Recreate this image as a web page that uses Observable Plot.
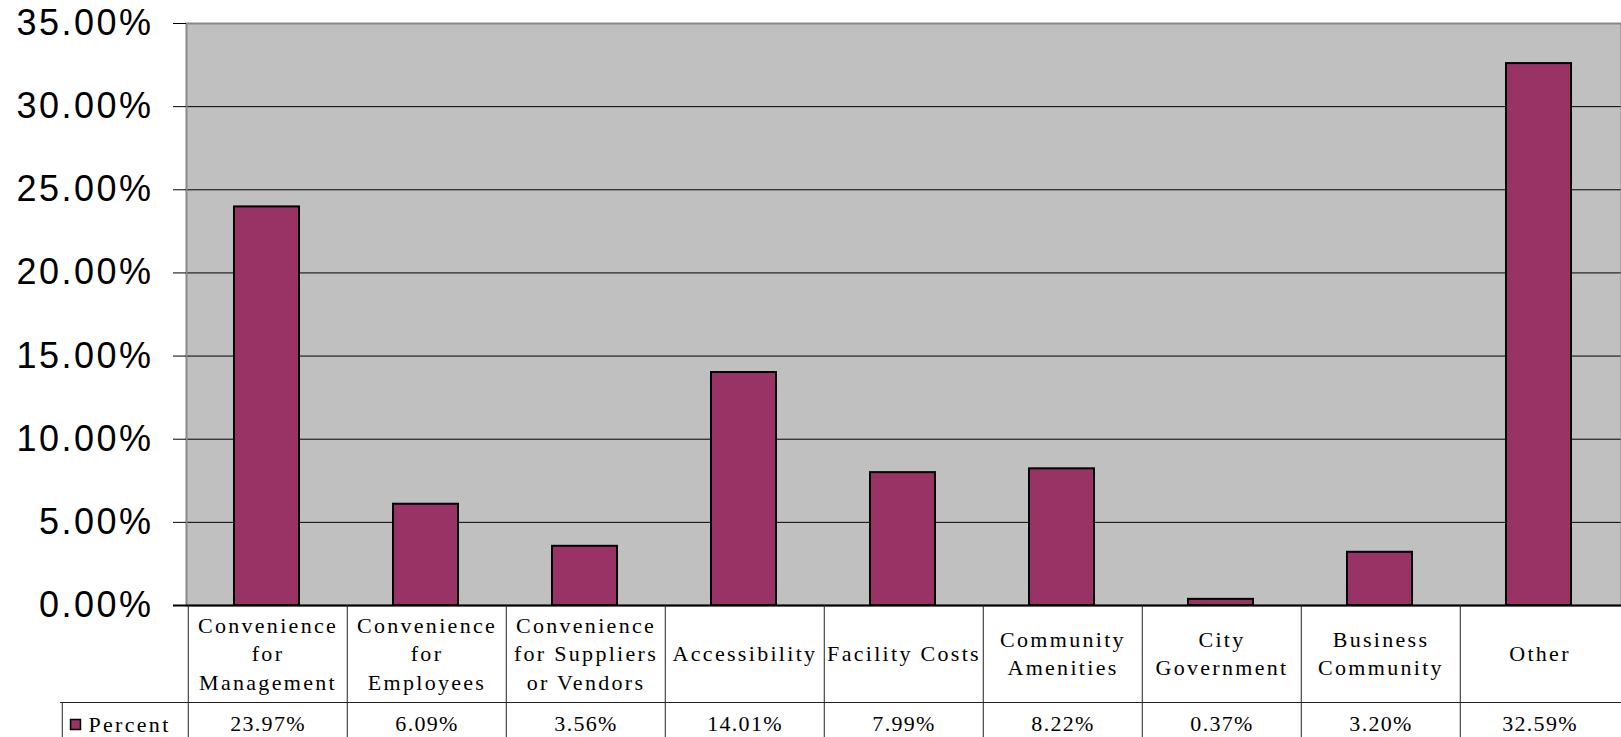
<!DOCTYPE html>
<html>
<head>
<meta charset="utf-8">
<script src="https://cdn.jsdelivr.net/npm/d3@7"></script>
<script src="https://cdn.jsdelivr.net/npm/@observablehq/plot@0.6"></script>
<style>
  html, body { margin: 0; padding: 0; background: #fff; }
</style>
</head>
<body>
<div id="chart"></div>
<script>
// Reasons given for choosing a location (share of responses)
const categories = [
  "Convenience\nfor\nManagement",
  "Convenience\nfor\nEmployees",
  "Convenience\nfor Suppliers\nor Vendors",
  "Accessibility",
  "Facility Costs",
  "Community\nAmenities",
  "City\nGovernment",
  "Business\nCommunity",
  "Other"
];
const values = [0.2397, 0.0609, 0.0356, 0.1401, 0.0799, 0.0822, 0.0037, 0.0320, 0.3259];
const seriesName = "Percent";
const yTicks = [0, 0.05, 0.10, 0.15, 0.20, 0.25, 0.30, 0.35];

const rows = categories.map((category, i) => ({category, value: values[i]}));

// Layout
const W = 1621, H = 737;
const mL = 186, mR = 0, mT = 23, mB = 132;
const plotH = H - mT - mB;
const step = (W - mL - mR) / categories.length;   // width of one table column
const headerH = 97;                                // height of the label row
const legendLeft = 126;                            // legend cell extends left of the plot

const pct = d3.format(".2%");
const serif = "Liberation Serif";
const sans = "Liberation Sans";
const barFill = "#993366";

const chart = Plot.plot({
  width: W,
  height: H,
  marginLeft: mL,
  marginRight: mR,
  marginTop: mT,
  marginBottom: mB,
  x: {domain: categories, padding: 0, axis: null},
  y: {domain: [0, 0.35], axis: null},
  marks: [
    // plot area background and gridlines
    Plot.frame({fill: "#c0c0c0"}),
    Plot.ruleY(yTicks.slice(1), {stroke: "#000", strokeWidth: 1}),
    Plot.frame({stroke: "#888", strokeWidth: 2}),
    Plot.axisY({
      ticks: yTicks,
      tickFormat: pct,
      tickSize: 13,
      tickPadding: 20,
      label: null,
      fontSize: 36,
      fontFamily: sans
    }),
    // bars
    Plot.barY(rows, {
      x: "category",
      y: "value",
      fill: barFill,
      stroke: "#000",
      strokeWidth: 2,
      insetLeft: 46,
      insetRight: 48
    }),
    Plot.ruleY([0], {stroke: "#000", strokeWidth: 2, insetLeft: -13}),

    // data table below the plot: column borders, row border, legend cell border
    Plot.ruleX(categories, {
      x: (d) => d,
      dx: -step / 2,
      insetTop: plotH,
      insetBottom: -mB,
      stroke: "#222",
      strokeWidth: 1
    }),
    Plot.ruleY([0], {dy: headerH, insetLeft: -legendLeft, stroke: "#222", strokeWidth: 1}),
    Plot.ruleX([categories[0]], {
      x: (d) => d,
      dx: -step / 2 - legendLeft,
      insetTop: plotH + headerH,
      insetBottom: -mB,
      stroke: "#222",
      strokeWidth: 1
    }),

    // category labels (header row)
    Plot.text(categories, {
      x: (d) => d,
      text: (d) => d,
      frameAnchor: "bottom",
      lineAnchor: "middle",
      dy: headerH / 2 - 2,
      lineHeight: 1.3,
      fontSize: 22,
      fontFamily: serif,
      fill: "#000"
    }),
    // values row
    Plot.text(rows, {
      x: "category",
      text: (d) => pct(d.value),
      frameAnchor: "bottom",
      lineAnchor: "middle",
      dy: headerH + 21,
      fontSize: 22,
      fontFamily: serif,
      fill: "#000"
    }),
    // legend key in the first cell of the values row
    Plot.dot([seriesName], {
      frameAnchor: "bottom-left",
      dx: -legendLeft + 15,
      dy: headerH + 22,
      symbol: "square",
      r: 5.6,
      fill: barFill,
      stroke: "#000",
      strokeWidth: 1.5
    }),
    Plot.text([seriesName], {
      frameAnchor: "bottom-left",
      text: (d) => d,
      textAnchor: "start",
      lineAnchor: "middle",
      dx: -legendLeft + 28,
      dy: headerH + 22,
      fontSize: 22,
      fontFamily: serif,
      fill: "#000"
    })
  ]
});

// the table's serif text is set with wide tracking; the axis numbers slightly wider too
d3.select(chart).selectAll("text").each(function () {
  const family = this.parentNode.getAttribute("font-family") || "";
  if (family.includes("Serif")) {
    const isValue = /%$/.test(this.textContent);
    this.setAttribute("letter-spacing", isValue ? "1.3px" : "2.3px");
  } else if (family.includes("Sans")) {
    this.setAttribute("letter-spacing", "2.5px");
  }
});

document.getElementById("chart").appendChild(chart);
</script>
</body>
</html>
